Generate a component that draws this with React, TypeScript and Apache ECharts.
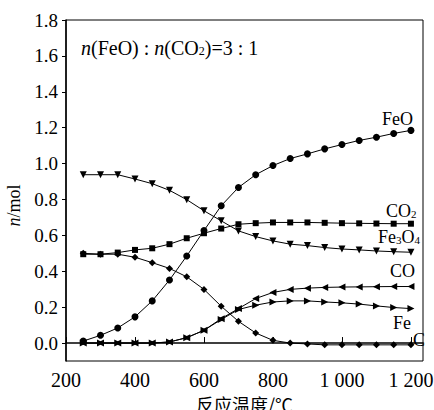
import React, { useEffect, useRef } from "react";
import * as echarts from "echarts";

const temps = [250, 300, 350, 400, 450, 500, 550, 600, 650, 700, 750, 800, 850, 900, 950, 1000, 1050, 1100, 1150, 1200];
const feO = [0.011, 0.043, 0.084, 0.146, 0.235, 0.351, 0.485, 0.627, 0.765, 0.867, 0.938, 0.989, 1.028, 1.054, 1.082, 1.106, 1.129, 1.147, 1.168, 1.185];
const co2 = [0.495, 0.495, 0.504, 0.519, 0.528, 0.551, 0.584, 0.612, 0.638, 0.662, 0.668, 0.672, 0.672, 0.672, 0.670, 0.668, 0.667, 0.666, 0.665, 0.665];
const fe3o4 = [0.938, 0.938, 0.938, 0.914, 0.888, 0.851, 0.799, 0.737, 0.681, 0.625, 0.593, 0.569, 0.551, 0.543, 0.532, 0.524, 0.519, 0.513, 0.509, 0.506];
const co = [0, 0, 0, 0, 0, 0.006, 0.03, 0.071, 0.136, 0.192, 0.248, 0.282, 0.299, 0.306, 0.31, 0.312, 0.313, 0.314, 0.315, 0.315];
const fe = [0, 0, 0, 0, 0, 0.006, 0.03, 0.071, 0.131, 0.187, 0.211, 0.229, 0.235, 0.235, 0.229, 0.224, 0.217, 0.207, 0.198, 0.192];
const c = [0.5, 0.495, 0.495, 0.478, 0.448, 0.416, 0.369, 0.299, 0.205, 0.121, 0.056, 0.015, 0, -0.005, -0.01, -0.01, -0.01, -0.01, -0.01, -0.01];

const xTicks = [200, 400, 600, 800, 1000, 1200];
const yTicks = [0, 0.2, 0.4, 0.6, 0.8, 1.0, 1.2, 1.4, 1.6, 1.8];

const SERIF = "Liberation Serif";
const CJK = "Noto Sans CJK SC";

const pair = (arr: number[]) => temps.map((t, i) => [t, arr[i]]);

export default function App() {
  const ref = useRef<HTMLDivElement>(null);
  useEffect(() => {
    document.body.style.margin = "0";
    if (!ref.current) return;
    const chart = echarts.init(ref.current, null, { renderer: "svg" });
    const mk = (name: string, data: number[], symbol: string, size: number, rotate = 0) => ({
      name,
      type: "line",
      data: pair(data),
      symbol,
      symbolSize: size,
      symbolRotate: rotate,
      showAllSymbol: true,
      lineStyle: { color: "#000", width: 1 },
      itemStyle: { color: "#000" },
      z: 3,
    });
    const mkRich = (fs: number) => ({
      i: { fontFamily: SERIF, fontSize: fs, fontStyle: "italic", color: "#000" },
      t: { fontFamily: SERIF, fontSize: fs, color: "#000" },
      s: { fontFamily: SERIF, fontSize: Math.round(fs * 0.62), color: "#000", padding: [6, 0, 0, 0] },
    });
    const txt = (x: number, y: number, text: string, fs = 18) => ({
      type: "text",
      x,
      y,
      style: { text, rich: mkRich(fs), fontFamily: SERIF, fontSize: fs, fill: "#000", verticalAlign: "middle" },
      z: 10,
    });
    chart.setOption({
      animation: false,
      backgroundColor: "#fff",
      textStyle: { fontFamily: SERIF, color: "#000" },
      grid: {
        left: 66,
        right: 11,
        top: 20,
        bottom: 49,
        show: true,
        borderColor: "#000",
        borderWidth: 1,
        containLabel: false,
        outerBoundsMode: "none",
      },
      xAxis: {
        type: "value",
        min: 200,
        max: 1235,
        interval: 200,
        splitLine: { show: false },
        axisLine: { lineStyle: { color: "#000", width: 1.5 } },
        axisTick: { inside: true, length: 6, lineStyle: { color: "#000" }, customValues: xTicks },
        axisLabel: {
          customValues: xTicks,
          margin: 9,
          color: "#000",
          fontFamily: SERIF,
          fontSize: 20,
          formatter: (v: number) => (v >= 1000 ? String(v).replace(/^(\d)(\d{3})$/, "$1 $2") : String(v)),
        },
        name: "反应温度/℃",
        nameLocation: "middle",
        nameGap: 31,
        nameTextStyle: { color: "#000", fontFamily: CJK, fontSize: 18 },
      },
      yAxis: {
        type: "value",
        min: -0.1,
        max: 1.8,
        splitLine: { show: false },
        axisLine: { lineStyle: { color: "#000", width: 1.5 } },
        axisTick: { length: 4, lineStyle: { color: "#000" }, customValues: yTicks },
        axisLabel: {
          customValues: yTicks,
          margin: 8,
          color: "#000",
          fontFamily: SERIF,
          fontSize: 19,
          formatter: (v: number) => v.toFixed(1),
        },
        name: "{i|n}{t|/mol}",
        nameLocation: "middle",
        nameRotate: 90,
        nameGap: 31,
        nameTextStyle: {
          color: "#000",
          fontFamily: SERIF,
          fontSize: 18,
          padding: [0, 30, 0, 0],
          rich: {
            i: { fontFamily: SERIF, fontSize: 18, fontStyle: "italic", color: "#000" },
            t: { fontFamily: SERIF, fontSize: 18, color: "#000" },
          },
        },
      },
      graphic: [
        txt(81, 48, "{i|n}{t|(FeO) : }{i|n}{t|(CO}{s|2}{t|)=3 : 1}", 20),
        txt(382, 119, "{t|FeO}"),
        txt(386, 211, "{t|CO}{s|2}"),
        txt(378, 237, "{t|Fe}{s|3}{t|O}{s|4}"),
        txt(390, 271, "{t|CO}"),
        txt(393, 323, "{t|Fe}"),
        txt(413, 340, "{t|C}"),
      ],
      series: [
        mk("FeO", feO, "circle", 7),
        mk("CO2", co2, "rect", 6),
        mk("Fe3O4", fe3o4, "triangle", 7, 180),
        mk("CO", co, "triangle", 7, 90),
        mk("Fe", fe, "triangle", 7, -90),
        mk("C", c, "diamond", 7),
      ],
    });
    return () => chart.dispose();
  }, []);
  return <div ref={ref} style={{ width: 434, height: 410 }} />;
}
